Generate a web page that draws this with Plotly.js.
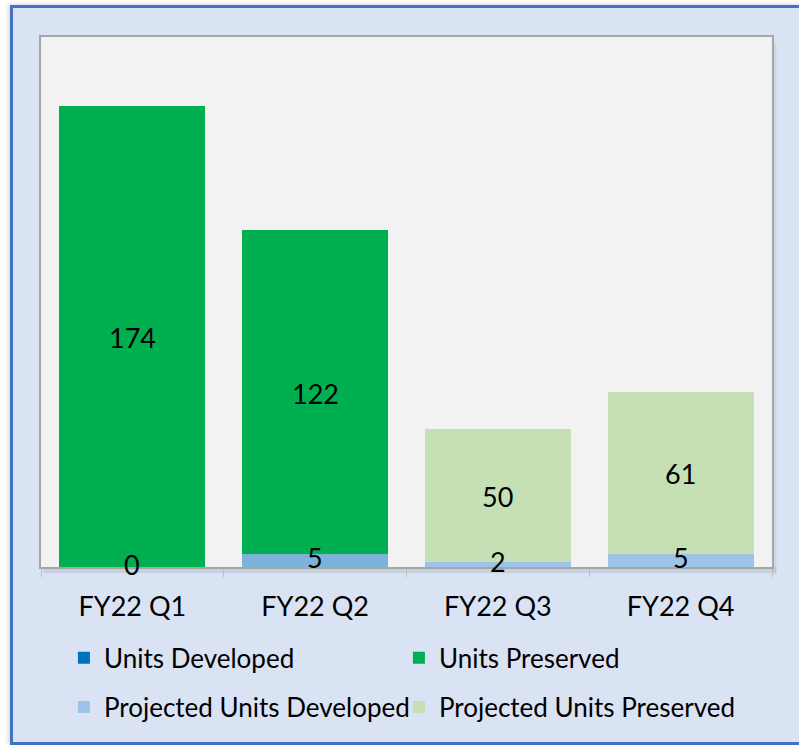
<!DOCTYPE html>
<html>
<head>
<meta charset="utf-8">
<script src="https://cdn.plot.ly/plotly-3.0.1.min.js"></script>
<style>
html,body{margin:0;padding:0;background:#ffffff;width:799px;height:745px;overflow:hidden;}
#frame{position:absolute;left:10px;top:5px;width:820px;height:740px;box-sizing:border-box;border:3px solid #4472c4;background:#dae3f3;box-shadow:-2px -1px 4px rgba(0,0,0,0.15);}
#chart{position:absolute;left:0;top:0;width:799px;height:745px;}
</style>
</head>
<body>
<div id="frame"></div>
<div id="chart"></div>
<script>
const categories = ["FY22 Q1", "FY22 Q2", "FY22 Q3", "FY22 Q4"];
const unitsDeveloped = [0, 5, null, null];
const unitsPreserved = [174, 122, null, null];
const projectedDeveloped = [null, null, 2, 5];
const projectedPreserved = [null, null, 50, 61];
const seriesNames = ["Units Developed", "Units Preserved", "Projected Units Developed", "Projected Units Preserved"];

const FONT = "Lato, 'Open Sans', sans-serif";

const traces = [
  {type:'bar', name:seriesNames[0], x:categories, y:unitsDeveloped,
   marker:{color:['#0070c0','#7db3db','#0070c0','#0070c0'], line:{width:0}}, legend:'legend', hoverinfo:'skip'},
  {type:'bar', name:seriesNames[1], x:categories, y:unitsPreserved,
   marker:{color:'#00b050', line:{width:0}}, legend:'legend', hoverinfo:'skip'},
  {type:'bar', name:seriesNames[2], x:categories, y:projectedDeveloped,
   marker:{color:'#9dc3e6', line:{width:0}}, legend:'legend2', hoverinfo:'skip'},
  {type:'bar', name:seriesNames[3], x:categories, y:projectedPreserved,
   marker:{color:'#c5e0b4', line:{width:0}}, legend:'legend2', hoverinfo:'skip'}
];

// data labels at the centre of each segment
const annotations = [];
const lower = [unitsDeveloped, projectedDeveloped];
const upper = [unitsPreserved, projectedPreserved];
categories.forEach((c, i) => {
  for (let k = 0; k < 2; k++) {
    const lo = lower[k][i], hi = upper[k][i];
    if (lo !== null && lo !== undefined) {
      annotations.push({x:c, y:lo/2, xref:'x', yref:'y', text:String(lo), showarrow:false,
        font:{family:FONT, size:27, color:'#000'}, yshift:3});
    }
    if (hi !== null && hi !== undefined) {
      annotations.push({x:c, y:(lo||0) + hi/2, xref:'x', yref:'y', text:String(hi), showarrow:false,
        font:{family:FONT, size:27, color:'#000'}, yshift:-1});
    }
  }
});

const legendCommon = {orientation:'h', xref:'container', yref:'container', x:0.080, xanchor:'left', yanchor:'middle',
  entrywidth:290, entrywidthmode:'pixels', bgcolor:'rgba(0,0,0,0)', font:{family:FONT, size:26, color:'#000'},
  traceorder:'normal', itemclick:false, itemdoubleclick:false};

const layout = {
  width:799, height:745,
  margin:{l:41, r:27, t:37, b:178},
  paper_bgcolor:'rgba(0,0,0,0)',
  plot_bgcolor:'#f2f2f2',
  barmode:'stack',
  bargap:0.2,
  font:{family:FONT, color:'#000'},
  xaxis:{
    type:'category', showline:true, mirror:true, linecolor:'#a6a6a6', linewidth:2,
    ticks:'outside', tickson:'boundaries', ticklen:8, tickcolor:'#bfbfbf', tickwidth:1,
    tickfont:{family:FONT, size:27, color:'#000'}, ticklabelstandoff:15,
    showgrid:false, zeroline:false, fixedrange:true
  },
  yaxis:{
    range:[0,200], showline:true, mirror:true, linecolor:'#a6a6a6', linewidth:2,
    showticklabels:false, ticks:'', showgrid:false, zeroline:false, fixedrange:true
  },
  showlegend:true,
  legend:Object.assign({}, legendCommon, {y:0.117}),
  legend2:Object.assign({}, legendCommon, {y:0.051}),
  annotations:annotations,
  shapes:[
    {type:'rect', xref:'paper', yref:'paper', x0:0.003, x1:1.006, y0:-0.012, y1:0,
     fillcolor:'rgba(0,0,0,0.08)', line:{width:0}, layer:'below'},
    {type:'rect', xref:'paper', yref:'paper', x0:1, x1:1.006, y0:-0.012, y1:0.99,
     fillcolor:'rgba(0,0,0,0.05)', line:{width:0}, layer:'below'}
  ]
};

Plotly.newPlot('chart', traces, layout, {displayModeBar:false, staticPlot:true});
</script>
</body>
</html>
